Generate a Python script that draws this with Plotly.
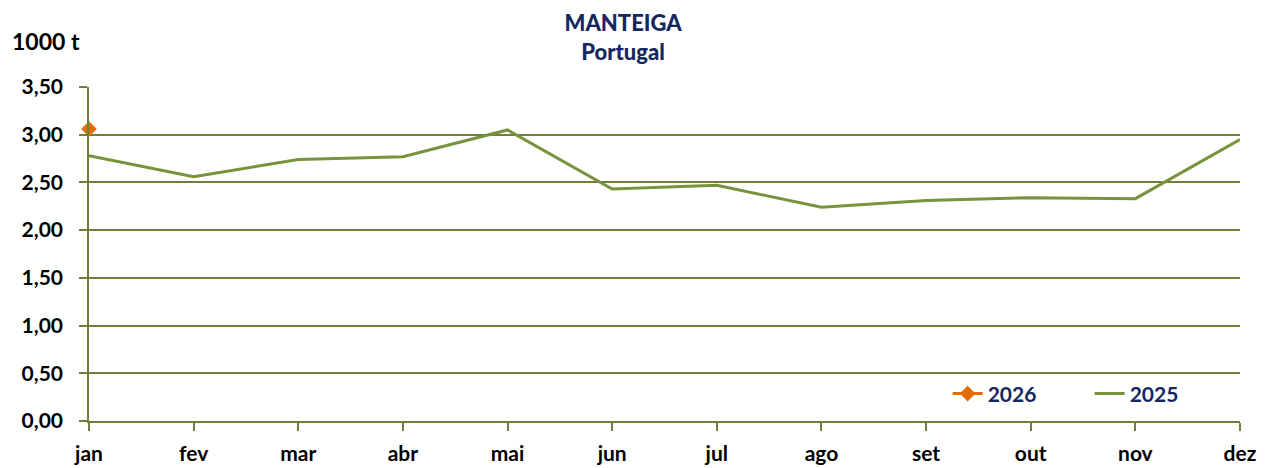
import plotly.graph_objects as go

months = ["jan", "fev", "mar", "abr", "mai", "jun", "jul", "ago", "set", "out", "nov", "dez"]
y2025 = [2.78, 2.56, 2.74, 2.77, 3.05, 2.43, 2.47, 2.24, 2.31, 2.34, 2.33, 2.95]
y2026 = [3.06]
yticks = [0, 0.5, 1.0, 1.5, 2.0, 2.5, 3.0, 3.5]
ytick_text = ["0,00", "0,50", "1,00", "1,50", "2,00", "2,50", "3,00", "3,50"]

FONT = "Lato"
NAVY = "#14285F"
GRID = "#6E7F3C"

fig = go.Figure()
fig.add_trace(go.Scatter(x=months[:len(y2026)], y=y2026, name="2026", mode="lines+markers",
                         line=dict(color="#E36C09", width=3), cliponaxis=False,
                         marker=dict(symbol="diamond", size=12, color="#E36C09")))
fig.add_trace(go.Scatter(x=months, y=y2025, name="2025", mode="lines", cliponaxis=False,
                         line=dict(color="#77933C", width=3)))

fig.update_layout(
    width=1270, height=468,
    margin=dict(l=81, r=38, t=79, b=55),
    plot_bgcolor="white", paper_bgcolor="white",
    font=dict(family=FONT, size=21, color="black"),
    title=dict(text="MANTEIGA<br>Portugal", x=0.4843, xanchor="center",
               y=0.951, yanchor="middle",
               font=dict(family=FONT, size=22, color=NAVY, weight=900)),
    showlegend=True,
    legend=dict(orientation="h", x=0.746, y=0.081, xanchor="left", yanchor="middle",
                font=dict(family=FONT, size=21, color=NAVY, weight="bold"), bgcolor="rgba(0,0,0,0)",
                traceorder="normal", entrywidth=97, entrywidthmode="pixels"),
    xaxis=dict(type="category", categoryorder="array", categoryarray=months,
               range=[0, 11], showgrid=False, showline=True, linecolor=GRID, linewidth=1.5,
               ticks="outside", ticklen=8, tickcolor=GRID, tickwidth=1.5, ticklabelstandoff=5,
               tickfont=dict(family=FONT, size=21, color="black", weight="bold"), zeroline=False),
    yaxis=dict(range=[0, 3.5], tickvals=yticks, ticktext=ytick_text,
               showgrid=True, gridcolor=GRID, gridwidth=1.5,
               showline=True, linecolor=GRID, linewidth=1.5,
               ticks="outside", ticklen=8, tickcolor=GRID, tickwidth=1.5, ticklabelstandoff=12,
               tickfont=dict(family=FONT, size=21, color="black", weight="bold"), zeroline=False),
    annotations=[dict(text="<b>1000 t</b>", xref="paper", yref="paper", x=-0.0686, y=1.1377,
                      xanchor="left", yanchor="middle", showarrow=False,
                      font=dict(family=FONT, size=23, color="black"))],
)

fig.write_html("out.html")
